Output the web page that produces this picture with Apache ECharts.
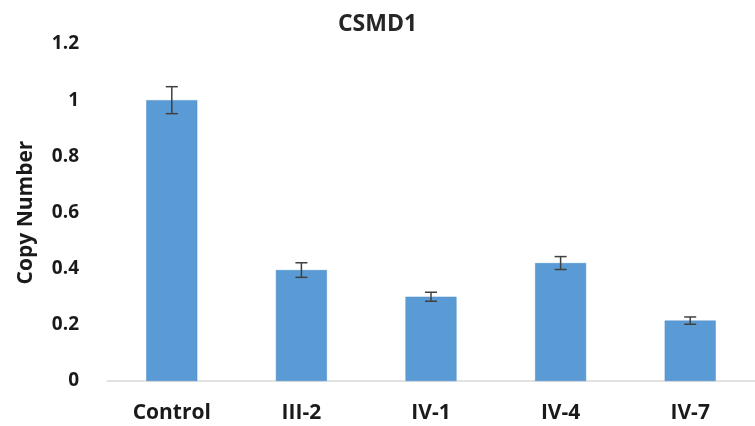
<!DOCTYPE html>
<html>
<head>
<meta charset="utf-8">
<script src="https://cdn.jsdelivr.net/npm/echarts@6/dist/echarts.min.js"></script>
<style>html,body{margin:0;padding:0;background:#fff;}#c{width:755px;height:426px;}</style>
</head>
<body>
<div id="c"></div>
<script>
var categories = ['Control', 'III-2', 'IV-1', 'IV-4', 'IV-7'];
var values = [1.0, 0.395, 0.30, 0.42, 0.215];
var errors = [0.048, 0.026, 0.016, 0.023, 0.013];
var yTicks = { min: 0, max: 1.2, interval: 0.2 };

var errData = values.map(function (v, i) { return [i, v - errors[i], v + errors[i]]; });
var font = '"Open Sans", "Liberation Sans", sans-serif';
var chart = echarts.init(document.getElementById('c'));
chart.setOption({
  animation: false,
  title: {
    text: 'CSMD1', left: 'center', top: 8,
    textStyle: { fontFamily: font, fontWeight: 'bold', fontSize: 23, color: '#262626' }
  },
  grid: { left: 107, right: 0, top: 44, bottom: 45, containLabel: false },
  xAxis: {
    type: 'category', data: categories,
    axisLine: { lineStyle: { color: '#d9d9d9', width: 1.5 } },
    axisTick: { show: false },
    axisLabel: { fontFamily: font, fontWeight: 'bold', fontSize: 21, color: '#1a1a1a', margin: 22 }
  },
  yAxis: {
    type: 'value', min: yTicks.min, max: yTicks.max, interval: yTicks.interval,
    name: 'Copy Number', nameLocation: 'middle', nameGap: 70, nameRotate: 90,
    nameTextStyle: { fontFamily: font, fontWeight: 'bold', fontSize: 21, color: '#1a1a1a' },
    axisLine: { show: false }, axisTick: { show: false }, splitLine: { show: false },
    axisLabel: { fontFamily: font, fontWeight: 'bold', fontSize: 19, color: '#1a1a1a', margin: 28 }
  },
  series: [
    { type: 'bar', data: values, barWidth: 51, itemStyle: { color: '#5B9BD5', borderColor: '#4a8ac8', borderWidth: 0.5 } },
    {
      type: 'custom', data: errData, z: 10,
      renderItem: function (params, api) {
        var x = api.value(0);
        var lo = api.coord([x, api.value(1)]);
        var hi = api.coord([x, api.value(2)]);
        var w = 6;
        var st = { stroke: '#404040', lineWidth: 1.5 };
        return { type: 'group', children: [
          { type: 'line', shape: { x1: hi[0], y1: hi[1], x2: lo[0], y2: lo[1] }, style: st },
          { type: 'line', shape: { x1: hi[0] - w, y1: hi[1], x2: hi[0] + w, y2: hi[1] }, style: st },
          { type: 'line', shape: { x1: lo[0] - w, y1: lo[1], x2: lo[0] + w, y2: lo[1] }, style: st }
        ]};
      }
    }
  ]
});
</script>
</body>
</html>
